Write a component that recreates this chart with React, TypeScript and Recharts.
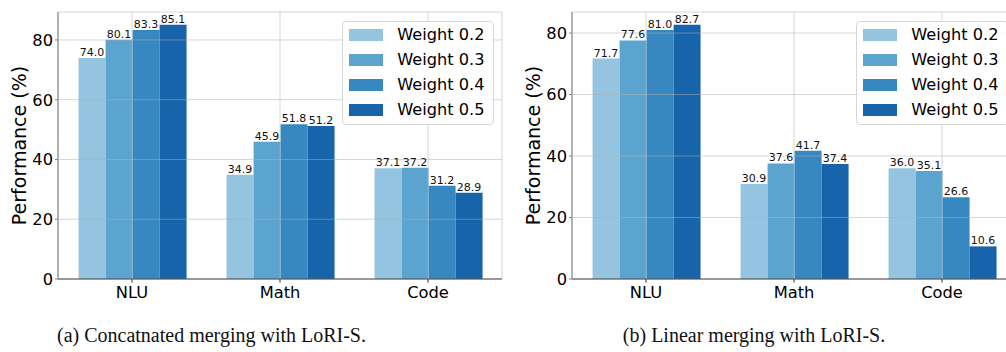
import React from 'react'
import { BarChart, Bar, XAxis, YAxis, CartesianGrid, LabelList } from 'recharts'

const categories = ['NLU', 'Math', 'Code']
const seriesNames = ['Weight 0.2', 'Weight 0.3', 'Weight 0.4', 'Weight 0.5']
const colors = ['#94c4df', '#5ca4d0', '#3787c0', '#1764ab']

// (a) concatenated merging
const concatW02 = [74.0, 34.9, 37.1]
const concatW03 = [80.1, 45.9, 37.2]
const concatW04 = [83.3, 51.8, 31.2]
const concatW05 = [85.1, 51.2, 28.9]

// (b) linear merging
const linearW02 = [71.7, 30.9, 36.0]
const linearW03 = [77.6, 37.6, 35.1]
const linearW04 = [81.0, 41.7, 26.6]
const linearW05 = [82.7, 37.4, 10.6]

const yTicks = [0, 20, 40, 60, 80]
const captions = ['(a) Concatnated merging with LoRI-S.', '(b) Linear merging with LoRI-S.']

const keys = ['w02', 'w03', 'w04', 'w05']

function buildRows(series: number[][]) {
  return categories.map((c, i) => {
    const row: Record<string, string | number> = { name: c }
    keys.forEach((k, j) => { row[k] = series[j][i] })
    return row
  })
}

const FONT = '"DejaVu Sans", sans-serif'
const SPINE = '#808080'

function LegendBox({ left }: { left: number }) {
  return (
    <div
      style={{
        position: 'absolute', left, top: 21,
        width: 152, height: 104, boxSizing: 'border-box',
        border: '1px solid #d6d6d6', borderRadius: 4,
        background: 'rgba(255,255,255,0.85)', paddingTop: 1,
        fontFamily: FONT, fontSize: 16.2, color: '#000',
      }}
    >
      {seriesNames.map((n, i) => (
        <div key={n} style={{ display: 'flex', alignItems: 'center', height: 24.8 }}>
          <div style={{ width: 34, height: 12, marginLeft: 6, background: colors[i] }} />
          <span style={{ marginLeft: 14.5, lineHeight: '16px' }}>{n}</span>
        </div>
      ))}
    </div>
  )
}

interface PanelProps {
  series: number[][]
  left: number
  marginLeft: number
  marginRight: number
  legendLeft: number
}

function Panel({ series, left, marginLeft, marginRight, legendLeft }: PanelProps) {
  const rows = buildRows(series)
  const ymax = Math.max(...series.flat()) * 1.05
  return (
    <div style={{ position: 'absolute', left, top: 0, width: 520, height: 310 }}>
      <BarChart
        width={520}
        height={310}
        data={rows}
        margin={{ top: 12, right: marginRight, left: marginLeft, bottom: 0 }}
        barCategoryGap="13.9%"
        barGap={0}
      >
        <XAxis
          dataKey="name"
          height={31}
          tickSize={3.5}
          tickMargin={4}
          axisLine={{ stroke: '#222', strokeWidth: 1.2 }}
          tickLine={{ stroke: '#222' }}
          tick={{ fontSize: 16.3, fill: '#000', fontFamily: FONT }}
        />
        <XAxis xAxisId="top" orientation="top" dataKey="name" height={0} tick={false} tickLine={false}
          axisLine={{ stroke: SPINE, strokeWidth: 1.2 }} />
        <YAxis
          width={40}
          domain={[0, ymax]}
          ticks={yTicks}
          allowDataOverflow
          tickSize={3}
          tickMargin={2}
          axisLine={{ stroke: SPINE, strokeWidth: 1.2 }}
          tickLine={{ stroke: SPINE }}
          tick={{ fontSize: 16.3, fill: '#000', fontFamily: FONT }}
          label={{
            content: ({ viewBox }: any) => {
              const x = viewBox.x + 0.5
              const y = viewBox.y + viewBox.height / 2
              return (
                <text
                  x={x}
                  y={y}
                  transform={`rotate(-90 ${x} ${y})`}
                  textAnchor="middle"
                  dominantBaseline="central"
                  fontSize={19}
                  fontFamily={FONT}
                  fill="#000"
                >
                  Performance (%)
                </text>
              )
            },
          }}
        />
        <YAxis yAxisId="right" orientation="right" width={0} domain={[0, ymax]} tick={false} tickLine={false}
          axisLine={{ stroke: SPINE, strokeWidth: 1.2 }} />
        {keys.map((k, i) => (
          <Bar key={k} dataKey={k} name={seriesNames[i]} fill={colors[i]} isAnimationActive={false}>
            <LabelList
              dataKey={k}
              position="top"
              offset={2}
              fontSize={11}
              fill="#111"
              fontFamily={FONT}
              formatter={(v: any) => Number(v).toFixed(1)}
            />
          </Bar>
        ))}
        <CartesianGrid stroke="#b0b0b0" strokeOpacity={0.5} {...({ zIndex: 500 } as any)} />
      </BarChart>
      <LegendBox left={legendLeft} />
    </div>
  )
}

export default function App() {
  return (
    <div style={{ position: 'absolute', left: 0, top: 0, width: 1006, height: 352, overflow: 'hidden', background: '#fff' }}>
      <svg width={1006} height={352} style={{ position: 'absolute', left: 0, top: 0 }}>
        <text x={211.5} y={342} textAnchor="middle" fontFamily='"Liberation Serif", serif' fontSize={20} fill="#111">
          {captions[0]}
        </text>
        <text x={754} y={342} textAnchor="middle" fontFamily='"Liberation Serif", serif' fontSize={20} fill="#111">
          {captions[1]}
        </text>
      </svg>
      <Panel series={[concatW02, concatW03, concatW04, concatW05]} left={0} marginLeft={18} marginRight={18} legendLeft={341.7} />
      <Panel series={[linearW02, linearW03, linearW04, linearW05]} left={510} marginLeft={22} marginRight={14} legendLeft={345.7} />
    </div>
  )
}
